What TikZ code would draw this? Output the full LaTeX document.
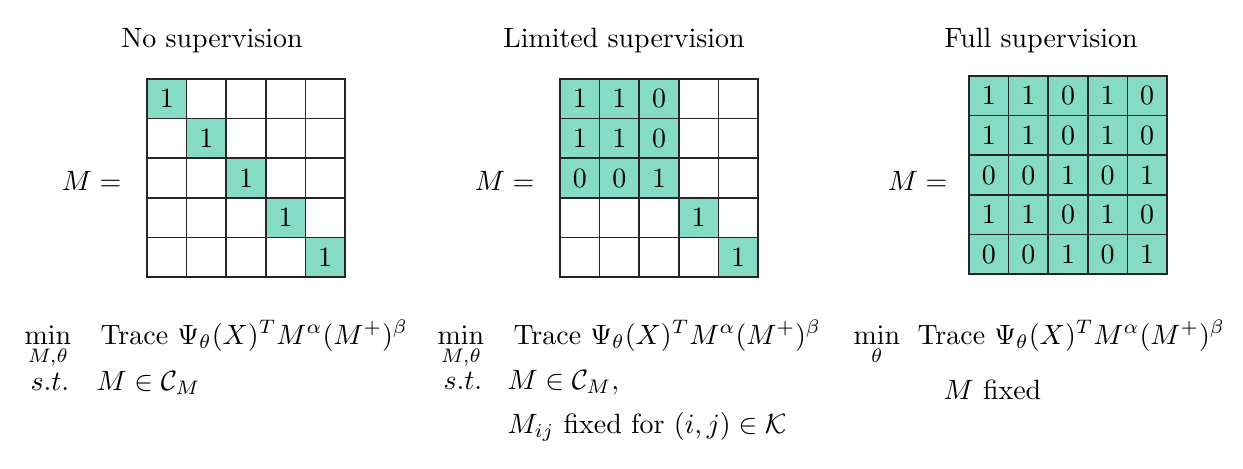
\documentclass[tikz,border=0pt]{standalone}
\usepackage{amsmath}
\definecolor{mint}{RGB}{133,219,196}
\begin{document}
\begin{tikzpicture}[x=0.358pt,y=-0.358pt,
  on/.style={fill=mint, draw=none, minimum size=14.18pt, inner sep=0pt, anchor=center},
  gridline/.style={draw=black!85, line width=0.6pt, line cap=rect},
  txt/.style={inner sep=0pt, anchor=base west},
  ttl/.style={inner sep=0pt, anchor=base}]
\useasboundingbox (0,0) rectangle (1243,468);
\def\s{39.6}
% ---------- titles
\node[ttl] (t1) at (212,47) {No supervision};
\node[ttl] (t2) at (624,47) {Limited supervision};
\node[ttl] (t3) at (1041,47) {Full supervision};
% ---------- matrix 1
\foreach \r in {1,...,5}
  \node[on] (a-\r) at ({147+(\r-0.5)*\s},{79+(\r-0.5)*\s}) {$1$};
\foreach \i in {0,...,5}{
  \draw[gridline] ({147+\i*\s},79) -- ({147+\i*\s},{79+5*\s});
  \draw[gridline] (147,{79+\i*\s}) -- ({147+5*\s},{79+\i*\s});
}
\node[inner sep=0pt, anchor=base east] (m1) at (122,190) {$M =$};
% ---------- matrix 2
\foreach \r/\row in {1/{1,1,0},2/{1,1,0},3/{0,0,1}}
  \foreach \v [count=\c] in \row
    \node[on] (b-\r-\c) at ({560+(\c-0.5)*\s},{79+(\r-0.5)*\s}) {$\v$};
\node[on] (b-4-4) at ({560+3.5*\s},{79+3.5*\s}) {$1$};
\node[on] (b-5-5) at ({560+4.5*\s},{79+4.5*\s}) {$1$};
\foreach \i in {0,...,5}{
  \draw[gridline] ({560+\i*\s},79) -- ({560+\i*\s},{79+5*\s});
  \draw[gridline] (560,{79+\i*\s}) -- ({560+5*\s},{79+\i*\s});
}
\node[inner sep=0pt, anchor=base east] (m2) at (535,190) {$M =$};
% ---------- matrix 3
\foreach \r/\row in {1/{1,1,0,1,0},2/{1,1,0,1,0},3/{0,0,1,0,1},4/{1,1,0,1,0},5/{0,0,1,0,1}}
  \foreach \v [count=\c] in \row
    \node[on] (c-\r-\c) at ({969+(\c-0.5)*\s},{76+(\r-0.5)*\s}) {$\v$};
\foreach \i in {0,...,5}{
  \draw[gridline] ({969+\i*\s},76) -- ({969+\i*\s},{76+5*\s});
  \draw[gridline] (969,{76+\i*\s}) -- ({969+5*\s},{76+\i*\s});
}
\node[inner sep=0pt, anchor=base east] (m3) at (948,190) {$M =$};
% ---------- formulas
\newcommand{\objfn}{$\text{Trace}\ \Psi_\theta(X)^T M^\alpha (M^+)^\beta$}
% 1
\node[txt] (f1min) at (24,344) {$\min\limits_{M,\theta}$};
\node[txt] (f1obj) at (100,344) {\objfn};
\node[txt] (f1st) at (30,390) {$s.t.$};
\node[txt] (f1c) at (96,390) {$M \in \mathcal{C}_M$};
% 2
\node[txt] (f2min) at (437,344) {$\min\limits_{M,\theta}$};
\node[txt] (f2obj) at (513,344) {\objfn};
\node[txt] (f2st) at (443,389) {$s.t.$};
\node[txt] (f2c) at (507,389) {$M \in \mathcal{C}_M,$};
\node[txt] (f2k) at (507,433) {$M_{ij}$ fixed for $(i,j) \in \mathcal{K}$};
% 3
\node[txt] (f3min) at (853,344) {$\min\limits_{\theta}$};
\node[txt] (f3obj) at (917,344) {\objfn};
\node[txt] (f3c) at (943,399) {$M$ fixed};
\end{tikzpicture}
\end{document}
